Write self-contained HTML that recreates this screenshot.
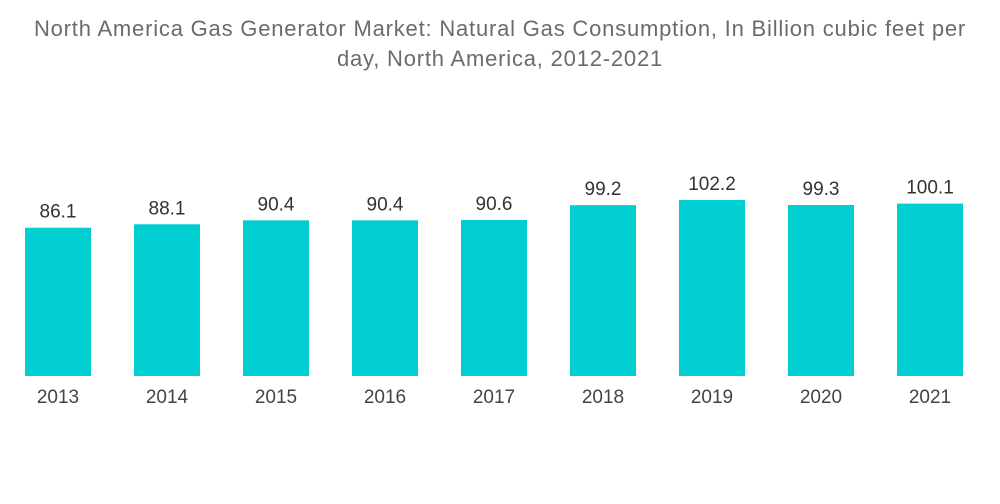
<!DOCTYPE html>
<html><head><meta charset="utf-8"><style>
html,body{margin:0;padding:0;background:#fff;width:1000px;height:504px;overflow:hidden;font-family:"Liberation Sans",sans-serif}
#title{position:absolute;left:0;top:14px;width:1000px;text-align:center;color:#6b6b6b;font-size:22px;line-height:30px;letter-spacing:0.8px}
svg{position:absolute;left:0;top:0}
</style></head><body>
<div id="title">North America Gas Generator Market: Natural Gas Consumption, In Billion cubic feet per<br>day, North America, 2012-2021</div>
<svg id="chart" width="1000" height="504"></svg>
<script>
const categories=["2013","2014","2015","2016","2017","2018","2019","2020","2021"];
const values=[86.1,88.1,90.4,90.4,90.6,99.2,102.2,99.3,100.1];
const labels=["86.1","88.1","90.4","90.4","90.6","99.2","102.2","99.3","100.1"];
const svg=document.getElementById('chart');
const NS='http://www.w3.org/2000/svg';
const baseY=376, pxPerUnit=176/102.2, x0=58, step=109, bw=66;
const yScale=v=>baseY-v*pxPerUnit;
const xScale=i=>x0+i*step;
categories.forEach((c,i)=>{
  const cx=xScale(i), y=yScale(values[i]);
  const r=document.createElementNS(NS,'rect');
  r.setAttribute('x',cx-bw/2);r.setAttribute('y',y);r.setAttribute('width',bw);r.setAttribute('height',baseY-y);r.setAttribute('fill','#00ced1');
  
  
  svg.appendChild(r);
  const t=document.createElementNS(NS,'text');
  t.setAttribute('x',cx);t.setAttribute('y',y-10);t.setAttribute('text-anchor','middle');t.setAttribute('font-size','19');t.setAttribute('fill','#333');
  t.textContent=labels[i];
  
  
  svg.appendChild(t);
  const xl=document.createElementNS(NS,'text');
  xl.setAttribute('x',cx);xl.setAttribute('y',403);xl.setAttribute('text-anchor','middle');xl.setAttribute('font-size','19');xl.setAttribute('fill','#444');
  xl.textContent=c;
  
  
  svg.appendChild(xl);
});
</script>
</body></html>
